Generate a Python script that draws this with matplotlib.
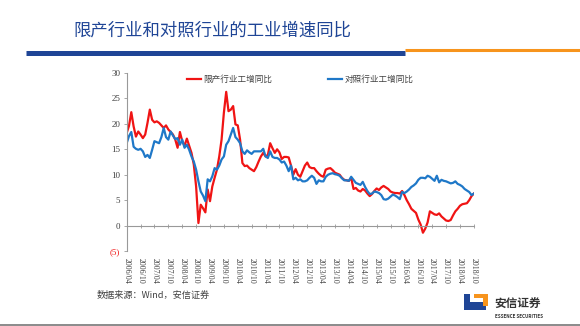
#!/usr/bin/env python3

"""Industrial output growth: restricted-capacity vs control industries."""

import matplotlib
matplotlib.use('Agg')
import matplotlib.pyplot as plt
from matplotlib.patches import Polygon
import pandas as pd

plt.rcParams['font.family'] = ['Noto Sans CJK SC', 'DejaVu Sans']

# monthly values, 2006/04 .. 2018/10
dates = pd.date_range('2006-04-01', periods=151, freq='MS')

restricted = [
    18.2, 19.6, 22.3, 19.5, 17.5, 18.5, 17.9, 17.2, 17.9, 20.2,
    22.8, 20.8, 20.3, 20.5, 20.2, 19.7, 19.2, 19.7, 18.9, 18.4,
    17.9, 16.9, 15.3, 18.4, 16.6, 15.7, 17.1, 15.7, 14.3, 12.0,
    7.7, 0.5, 4.1, 3.4, 2.6, 7.1, 4.8, 7.7, 9.4, 11.0,
    13.6, 16.9, 22.2, 26.3, 22.5, 22.8, 23.5, 19.9, 19.7, 16.9,
    12.3, 11.7, 11.8, 11.3, 11.0, 10.7, 11.5, 12.6, 13.6, 14.3,
    13.6, 13.9, 16.2, 15.2, 14.3, 15.0, 14.4, 13.1, 13.5, 13.5,
    13.4, 11.8, 10.0, 11.1, 10.0, 9.6, 10.7, 11.8, 12.4, 11.5,
    11.3, 11.3, 10.7, 10.2, 9.8, 9.6, 11.0, 11.2, 11.3, 10.9,
    10.4, 10.2, 10.0, 9.4, 9.0, 8.9, 8.8, 9.4, 7.2, 7.4,
    6.9, 6.7, 7.2, 6.9, 6.3, 5.8, 6.2, 6.8, 7.3, 7.0,
    7.5, 7.8, 7.5, 7.2, 6.7, 6.5, 6.4, 6.4, 6.3, 6.8,
    6.0, 5.0, 4.2, 3.3, 2.9, 2.5, 1.2, 0.2, -1.4, -0.6,
    0.6, 2.8, 2.5, 2.2, 2.1, 2.4, 1.8, 1.4, 1.0, 0.9,
    1.1, 2.0, 2.8, 3.3, 3.9, 4.2, 4.3, 4.4, 5.0, 5.8,
    6.3,
]

control = [
    16.2, 17.6, 18.4, 15.5, 15.1, 14.9, 15.1, 14.6, 13.5, 13.9,
    13.3, 14.9, 16.6, 16.4, 16.2, 17.4, 19.2, 17.4, 16.9, 18.5,
    17.7, 17.0, 17.2, 15.9, 16.9, 15.3, 15.9, 14.9, 13.6, 12.6,
    11.0, 8.7, 6.7, 5.9, 4.8, 9.1, 8.7, 9.7, 11.3, 11.0,
    11.8, 13.0, 13.6, 15.9, 16.6, 17.9, 19.2, 17.4, 16.9, 16.2,
    14.6, 14.1, 14.8, 14.4, 14.1, 14.6, 14.6, 14.6, 14.6, 15.1,
    13.6, 13.3, 14.6, 13.5, 13.3, 13.3, 13.0, 12.4, 12.6, 11.8,
    10.7, 11.8, 9.1, 9.4, 8.9, 9.1, 8.7, 8.7, 8.9, 9.4,
    9.8, 9.4, 8.2, 8.9, 8.7, 8.7, 9.6, 10.0, 10.2, 10.3,
    10.1, 10.0, 9.8, 9.3, 8.9, 8.9, 8.8, 9.6, 9.0, 8.4,
    8.2, 8.0, 8.6, 7.6, 6.8, 6.2, 6.3, 6.7, 6.6, 6.4,
    6.0, 5.2, 5.1, 5.3, 5.7, 6.1, 5.9, 5.6, 5.2, 6.6,
    6.4, 6.7, 7.1, 7.6, 7.9, 8.3, 9.0, 9.4, 9.4, 9.3,
    9.8, 9.6, 9.2, 8.8, 9.8, 8.5, 9.0, 8.8, 8.7, 8.5,
    8.3, 8.4, 8.7, 8.2, 8.0, 7.7, 7.2, 6.9, 6.6, 6.0,
    6.3,
]

y_ticks = [-5, 0, 5, 10, 15, 20, 25, 30]
y_labels = ['(5)', '0', '5', '10', '15', '20', '25', '30']

RED = '#F01414'
BLUE = '#1F78C8'
NAVY = '#1F4596'
ORANGE = '#F7941D'
SERIF = ['Liberation Serif', 'Noto Sans CJK SC']


def main():
    fig = plt.figure(figsize=(5.8, 3.26), dpi=100)
    fig.patch.set_facecolor('white')

    # header
    fig.text(0.127, 0.905, '限产行业和对照行业的工业增速同比', fontsize=12.5,
             color=NAVY, ha='left', va='center')
    fig.add_artist(plt.Line2D([0.045, 0.698], [0.837, 0.837], color=NAVY,
                              lw=3.6, solid_capstyle='butt'))
    fig.add_artist(plt.Line2D([0.698, 1.0], [0.848, 0.848], color=ORANGE,
                              lw=2.2, solid_capstyle='butt'))

    ax = fig.add_axes([0.2184, 0.230, 0.5986, 0.546])

    # spines first: moving a spine resets the tick objects
    for side in ['top', 'right']:
        ax.spines[side].set_visible(False)
    ax.spines['bottom'].set_position(('data', 0))
    for side in ['bottom', 'left']:
        ax.spines[side].set_color('#999999')
        ax.spines[side].set_linewidth(0.8)

    x = list(range(len(dates)))
    ax.plot(x, restricted, color=RED, lw=1.6, label='限产行业工增同比')
    ax.plot(x, control, color=BLUE, lw=1.6, label='对照行业工增同比')

    ax.set_xlim(0, len(dates) - 1)
    ax.set_ylim(-5, 30)

    ax.tick_params(axis='x', direction='inout', length=3, width=0.6,
                   color='#999999', pad=22)
    ax.tick_params(axis='y', direction='out', length=2.5, width=0.6,
                   color='#999999', pad=2)

    ax.set_yticks(y_ticks)
    ax.set_yticklabels(y_labels, family=SERIF, fontsize=6.5, color='#404040')
    ax.get_yticklabels()[0].set_color(RED)

    ax.set_xticks(x[::6])
    ax.set_xticklabels([d.strftime('%Y/%m') for d in dates[::6]], rotation=-90,
                       family=SERIF, fontsize=5.7, color='#404040',
                       va='top', ha='center')

    leg = ax.legend(loc='upper center', bbox_to_anchor=(0.5, 1.035), ncol=2,
                    frameon=False, fontsize=6.2, handlelength=1.6,
                    handletextpad=0.3, columnspacing=6.5)
    for t in leg.get_texts():
        t.set_color('#404040')

    # footer
    fig.text(0.167, 0.094, '数据来源：Wind，安信证券', fontsize=6.6,
             color='#404040', ha='left', va='center')

    # logo
    fig.add_artist(Polygon([[0.800, 0.049], [0.838, 0.049], [0.838, 0.075],
                            [0.810, 0.075], [0.810, 0.098], [0.800, 0.098]],
                           closed=True, transform=fig.transFigure,
                           facecolor=NAVY, edgecolor='none'))
    fig.add_artist(Polygon([[0.818, 0.098], [0.842, 0.098], [0.842, 0.062],
                            [0.832, 0.062], [0.832, 0.085], [0.818, 0.085]],
                           closed=True, transform=fig.transFigure,
                           facecolor=ORANGE, edgecolor='none'))
    fig.text(0.853, 0.066, '安信证券', fontsize=8.4, color='#333333',
             ha='left', va='center', fontweight='bold')
    fig.text(0.853, 0.030, 'ESSENCE SECURITIES', fontsize=3.3, color='#333333',
             ha='left', va='center', fontweight='bold')
    fig.add_artist(plt.Line2D([0.0, 1.0], [0.003, 0.003], color='#777777',
                              lw=1.2))

    fig.savefig('out.png', dpi=100)


if __name__ == '__main__':
    main()
